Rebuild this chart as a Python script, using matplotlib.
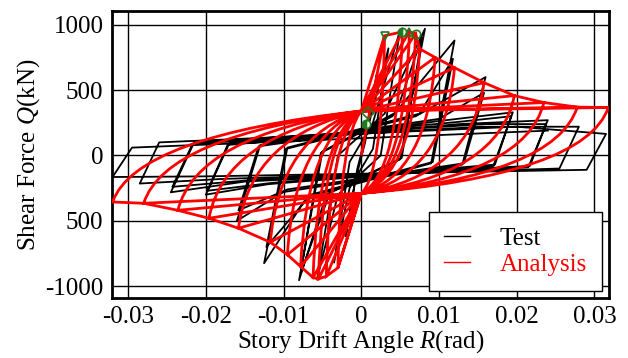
import matplotlib as mpl
mpl.use('Agg')
import matplotlib.pyplot as plt
import matplotlib.lines as mlines
from matplotlib.path import Path
from matplotlib.patches import PathPatch

plt.rcParams['font.family'] = ['Liberation Serif', 'DejaVu Serif']
plt.rcParams['mathtext.fontset'] = 'custom'
plt.rcParams['mathtext.rm'] = 'Liberation Serif'
plt.rcParams['mathtext.it'] = 'Liberation Serif:italic'
plt.rcParams['axes.unicode_minus'] = False

# --- analysis (red): peak points of each cycle, unloading control points, pinch points
ana_pos_R = [0.0030, 0.0053, 0.0062, 0.0070, 0.0075, 0.0095, 0.0120, 0.0158, 0.0197, 0.0235, 0.0278, 0.0318]
ana_pos_Q = [916, 947, 947, 931, 817, 750, 672, 557, 458, 405, 370, 367]
ana_neg_R = [-0.0030, -0.0045, -0.0055, -0.0062, -0.0078, -0.0095, -0.0117, -0.0158, -0.0196, -0.0236, -0.0280, -0.0320]
ana_neg_Q = [-860, -925, -945, -935, -850, -760, -664, -557, -481, -420, -366, -356]
ana_cpos_R = [0.0027, 0.0048, 0.0056, 0.0063, 0.0068, 0.0086, 0.0108, 0.0142, 0.0177, 0.0212, 0.0250, 0.0288]
ana_cpos_Q = [-150, -150, -150, -150, -150, -150, -150, -150, -150, -150, -150, -150]
ana_cneg_R = [-0.0027, -0.0041, -0.0050, -0.0056, -0.0070, -0.0086, -0.0105, -0.0142, -0.0176, -0.0212, -0.0252, -0.0290]
ana_cneg_Q = [150, 150, 150, 150, 150, 150, 150, 150, 150, 150, 150, 150]
pinch_pos = (0.0, 340)
pinch_neg = (0.0, -290)

# --- test (black): peaks, knee after unloading, end of slip (two cycles per amplitude)
test_pos_R = [0.0020, 0.0035, 0.0050, 0.0082, 0.0078, 0.0120, 0.0118, 0.0160, 0.0158,
              0.0195, 0.0193, 0.0240, 0.0238, 0.0280, 0.0315]
test_pos_Q = [620, 820, 960, 970, 900, 880, 740, 600, 480, 330, 300, 270, 240, 220, 165]
test_neg_R = [-0.0020, -0.0035, -0.0057, -0.0080, -0.0078, -0.0125, -0.0122, -0.0160, -0.0158,
              -0.0200, -0.0198, -0.0245, -0.0243, -0.0285, -0.0320]
test_neg_Q = [-620, -820, -950, -955, -900, -825, -700, -500, -420, -300, -270, -282, -240, -215, -165]
test_kpos_R = [0.0005, 0.0015, 0.0025, 0.0050, 0.0052, 0.0090, 0.0092, 0.0130, 0.0132,
               0.0170, 0.0172, 0.0215, 0.0217, 0.0255, 0.0290]
test_kpos_Q = [100, 50, 0, -30, -20, -60, -50, -70, -60, -80, -70, -90, -80, -100, -110]
test_spos_R = [-0.0008, -0.0015, -0.0030, -0.0045, -0.0040, -0.0070, -0.0065, -0.0100, -0.0095,
               -0.0120, -0.0115, -0.0150, -0.0145, -0.0180, -0.0200]
test_spos_Q = [-200, -250, -300, -300, -280, -320, -300, -280, -260, -220, -210, -200, -190, -180, -160]
test_kneg_R = [-0.0005, -0.0015, -0.0030, -0.0050, -0.0052, -0.0095, -0.0097, -0.0130, -0.0132,
               -0.0170, -0.0172, -0.0215, -0.0217, -0.0260, -0.0295]
test_kneg_Q = [-100, -50, 0, 30, 20, 60, 50, 80, 70, 90, 80, 100, 90, 100, 60]
test_sneg_R = [0.0008, 0.0015, 0.0030, 0.0045, 0.0040, 0.0075, 0.0070, 0.0100, 0.0095,
               0.0130, 0.0125, 0.0160, 0.0155, 0.0200, 0.0240]
test_sneg_Q = [200, 250, 320, 330, 300, 320, 300, 280, 260, 260, 240, 240, 220, 220, 190]

# --- green markers
mark_R = [0.0030, 0.0053, 0.0062, 0.0070, 0.0009, 0.0006]
mark_Q = [916, 947, 947, 931, 328, 244]
mark_sym = ['v', 'o', '^', 'o', 'D', 'o']
mark_fill = ['none', 'left', 'none', 'none', 'none', 'left']

x_ticks = [-0.03, -0.02, -0.01, 0, 0.01, 0.02, 0.03]
x_labels = ['-0.03', '-0.02', '-0.01', '0', '0.01', '0.02', '0.03']
y_ticks = [1000, 500, 0, -500, -1000]
y_labels = ['1000', '500', '0', '500', '-1000']

fig = plt.figure(figsize=(6.28, 3.58), dpi=100)
ax = fig.add_axes([0.178, 0.168, 0.792, 0.801])

# test curve
tx, ty = [0.0], [0.0]
for i in range(len(test_pos_R)):
    tx += [test_pos_R[i], test_kpos_R[i], test_spos_R[i], test_neg_R[i], test_kneg_R[i], test_sneg_R[i]]
    ty += [test_pos_Q[i], test_kpos_Q[i], test_spos_Q[i], test_neg_Q[i], test_kneg_Q[i], test_sneg_Q[i]]
ax.plot(tx, ty, color='black', lw=1.3, zorder=3)

# analysis curve (quadratic bezier unloading branches)
verts = [(0.0, 0.0), (ana_pos_R[0], ana_pos_Q[0])]
codes = [Path.MOVETO, Path.LINETO]
for i in range(len(ana_pos_R)):
    verts += [(ana_cpos_R[i], ana_cpos_Q[i]), pinch_neg]
    codes += [Path.CURVE3, Path.CURVE3]
    if i > 0:
        verts.append((ana_neg_R[i - 1], ana_neg_Q[i - 1]))
        codes.append(Path.LINETO)
    verts.append((ana_neg_R[i], ana_neg_Q[i]))
    codes.append(Path.LINETO)
    verts += [(ana_cneg_R[i], ana_cneg_Q[i]), pinch_pos]
    codes += [Path.CURVE3, Path.CURVE3]
    verts.append((ana_pos_R[i], ana_pos_Q[i]))
    codes.append(Path.LINETO)
    if i + 1 < len(ana_pos_R):
        verts.append((ana_pos_R[i + 1], ana_pos_Q[i + 1]))
        codes.append(Path.LINETO)
ax.add_patch(PathPatch(Path(verts, codes), fill=False, edgecolor='red', lw=2.0, zorder=4))

for r, q, m, f in zip(mark_R, mark_Q, mark_sym, mark_fill):
    ax.plot(r, q, marker=m, ms=6, fillstyle=f, color='#1f7a1f', mec='#1f7a1f',
            markerfacecoloralt='white', mew=1.2, ls='none', zorder=5)

ax.set_xlim(-0.0321, 0.0319)
ax.set_ylim(-1090, 1105)
ax.set_xticks(x_ticks)
ax.set_xticklabels(x_labels)
ax.set_yticks(y_ticks)
ax.set_yticklabels(y_labels)
ax.tick_params(length=0, labelsize=18, pad=6)
ax.grid(True, color='black', lw=1.0)
ax.set_axisbelow(True)
for s in ax.spines.values():
    s.set_linewidth(2.0)

ax.set_xlabel('Story Drift Angle $R$(rad)', fontsize=18, labelpad=0)
ax.set_ylabel('Shear Force $Q$(kN)', fontsize=18, labelpad=2)

h1 = mlines.Line2D([], [], color='black', lw=1.0)
h2 = mlines.Line2D([], [], color='red', lw=1.0)
leg = ax.legend([h1, h2], ['Test', 'Analysis'], loc='lower right', bbox_to_anchor=(0.986, 0.024),
                borderaxespad=0, fontsize=18, handlelength=1.05, handletextpad=1.2,
                borderpad=0.6, labelspacing=0.15, fancybox=False, framealpha=1, edgecolor='black')
leg.get_frame().set_linewidth(1.0)
leg.get_texts()[1].set_color('red')

fig.savefig('out.png', dpi=100)
